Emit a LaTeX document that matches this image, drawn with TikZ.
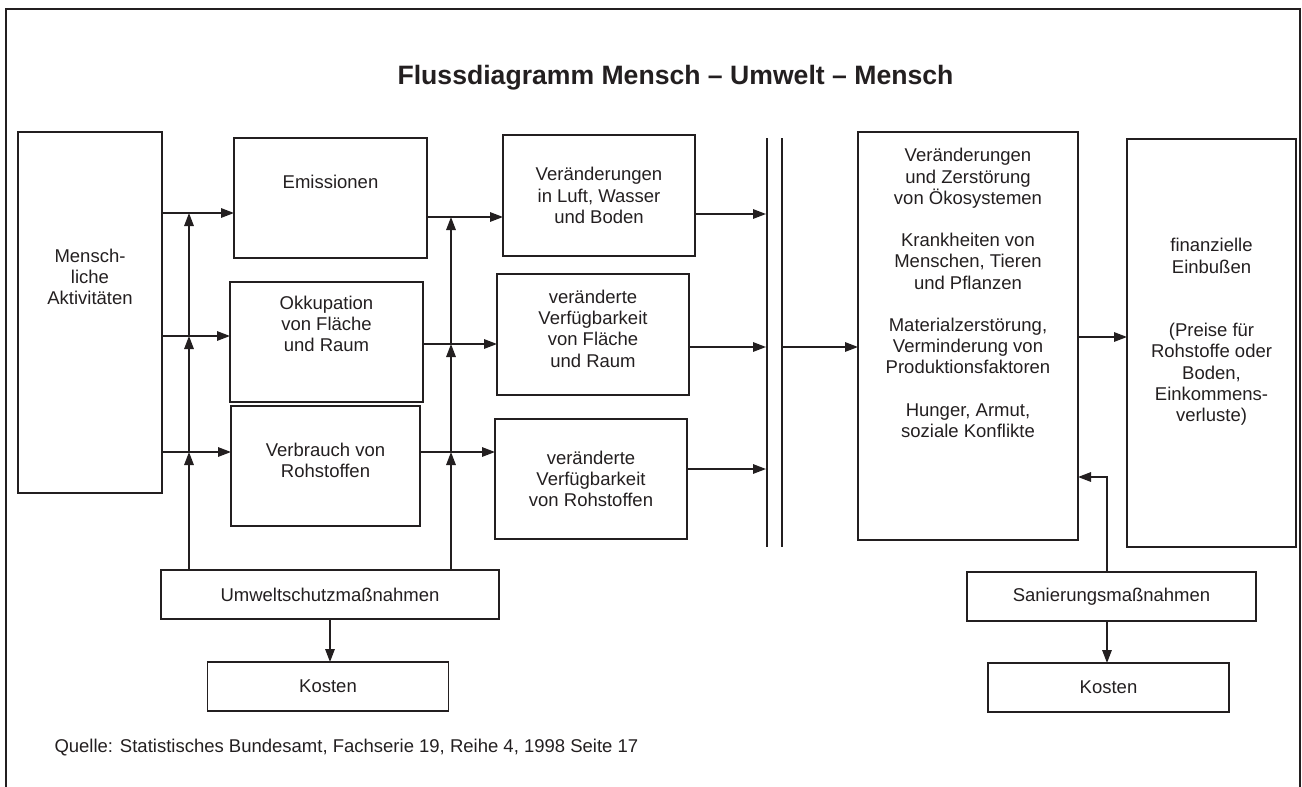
\documentclass[tikz,border=0pt]{standalone}
\usepackage{fontspec}
\setmainfont{Liberation Sans}
\usetikzlibrary{positioning,calc,arrows.meta}
\definecolor{inkblack}{RGB}{35,31,32}
\newcommand{\lowpad}[1]{\rule[-#1]{0pt}{#1}}

\begin{document}
\begin{tikzpicture}[
    x=1pt, y=-1pt,
    every node/.style={font=\fontsize{18.5pt}{21.2pt}\selectfont, text=inkblack},
    box/.style={rectangle, draw=inkblack, line width=1.7pt, align=center, inner sep=0pt, outer sep=0pt},
    title/.style={font=\fontsize{26.6pt}{30pt}\selectfont\bfseries},
    arrow/.style={-{Triangle[length=13pt,width=9.5pt]}, line width=1.5pt, color=inkblack},
    bar/.style={line width=1.4pt, color=inkblack},
    frame/.style={line width=1.5pt, color=inkblack}
]
\useasboundingbox (0,0) rectangle (1302,787);

% Frame (open at the bottom)
\draw[frame] (6,787) -- (6,9) -- (1300,9) -- (1300,787);

% Title and source
\node[title, anchor=base] (titel) at (675.5,84.5) {Flussdiagramm Mensch – Umwelt – Mensch};
\node[anchor=base west] (quelle) at (51,752) {Quelle: Statistisches Bundesamt, Fachserie 19, Reihe 4, 1998 Seite 17};

% Human activities
\node[box, minimum width=144pt, minimum height=361pt] (mensch) at (90,312.5) {Mensch-\\liche\\Aktivitäten\lowpad{72pt}};

% Pressures
\node[box, minimum width=193pt, minimum height=120pt, right=72pt of mensch, yshift=114.5pt] (emis) {Emissionen\lowpad{32pt}};
\node[box, minimum width=193pt, minimum height=120pt, right=68pt of mensch, yshift=-29.5pt] (okkup) {Okkupation\\von Fläche\\und Raum\lowpad{36pt}};
\node[box, minimum width=189pt, minimum height=120pt, right=69pt of mensch, yshift=-153.5pt] (verbr) {Verbrauch von\\Rohstoffen\lowpad{12pt}};

% Changes of the environment
\node[box, minimum width=192pt, minimum height=121pt, right=76pt of emis, yshift=2.5pt] (luft) {Veränderungen\\in Luft, Wasser\\und Boden};
\node[box, minimum width=192pt, minimum height=121pt, right=74pt of okkup, yshift=7.5pt] (flaeche) {veränderte\\Verfügbarkeit\\von Fläche\\und Raum\lowpad{12pt}};
\node[box, minimum width=192pt, minimum height=120pt, right=75pt of verbr, yshift=-13pt] (rohst) {veränderte\\Verfügbarkeit\\von Rohstoffen};

% Consequences
\node[box, minimum width=220pt, minimum height=408pt, right=169pt of flaeche, yshift=-1.5pt] (folgen) {Veränderungen\\und Zerstörung\\von Ökosystemen\\[21.2pt]Krankheiten von\\Menschen, Tieren\\und Pflanzen\\[21.2pt]Materialzerstörung,\\Verminderung von\\Produktionsfaktoren\\[21.2pt]Hunger, Armut,\\soziale Konflikte\lowpad{86pt}};
\node[box, minimum width=169pt, minimum height=408pt, right=49pt of folgen, yshift=-7pt] (finanz) {finanzielle\\Einbußen\\[42.4pt](Preise für\\Rohstoffe oder\\Boden,\\Einkommens-\\verluste)\lowpad{26pt}};

% Measures and costs
\node[box, minimum width=338pt, minimum height=49pt, below=44pt of verbr, xshift=4.5pt] (umwelt) {Umweltschutzmaßnahmen};
\node[box, minimum width=241pt, minimum height=49pt, below=43pt of umwelt, xshift=-2pt] (kostenl) {Kosten};
\node[box, minimum width=289pt, minimum height=49pt, below=25pt of finanz, xshift=-100pt] (sanier) {Sanierungsmaßnahmen};
\node[box, minimum width=241pt, minimum height=49pt, below=42pt of sanier, xshift=-3pt] (kostenr) {Kosten};

% Connections from human activities
\coordinate (ein1) at ([yshift=-15pt]emis.west);
\coordinate (ein2) at ([yshift=6pt]okkup.west);
\coordinate (ein3) at ([yshift=14pt]verbr.west);
\draw[arrow] (mensch.east |- ein1) -- (ein1);
\draw[arrow] (mensch.east |- ein2) -- (ein2);
\draw[arrow] (mensch.east |- ein3) -- (ein3);

% Connections to the changes
\coordinate (mit1) at ([yshift=-21.5pt]luft.west);
\coordinate (mit2) at ([yshift=-9.5pt]flaeche.west);
\coordinate (mit3) at ([yshift=27pt]rohst.west);
\draw[arrow] (emis.east |- mit1) -- (mit1);
\draw[arrow] (okkup.east |- mit2) -- (mit2);
\draw[arrow] (verbr.east |- mit3) -- (mit3);

% Environmental protection acts on both stages
\coordinate (sl) at (189,0);
\coordinate (sr) at (451,0);
\draw[arrow] (sl |- umwelt.north) -- (sl |- ein3);
\draw[arrow] (sl |- ein3) -- (sl |- ein2);
\draw[arrow] (sl |- ein2) -- (sl |- ein1);
\draw[arrow] (sr |- umwelt.north) -- (sr |- mit3);
\draw[arrow] (sr |- mit3) -- (sr |- mit2);
\draw[arrow] (sr |- mit2) -- (sr |- mit1);
\draw[arrow] (umwelt.south) -- (umwelt.south |- kostenl.north);

% Double bar
\coordinate (bar1) at (767,138);
\coordinate (bar2) at (782,138);
\coordinate (tip) at (766,0);
\draw[bar] (bar1) -- ++(0,409);
\draw[bar] (bar2) -- ++(0,409);

\coordinate (aus1) at ([yshift=-18.5pt]luft.east);
\coordinate (aus2) at ([yshift=-12.5pt]flaeche.east);
\coordinate (aus3) at ([yshift=10pt]rohst.east);
\draw[arrow] (aus1) -- (aus1 -| tip);
\draw[arrow] (aus2) -- (aus2 -| tip);
\draw[arrow] (aus3) -- (aus3 -| tip);

\coordinate (folgein) at ([yshift=-11pt]folgen.west);
\draw[arrow] (bar2 |- folgein) -- (folgein);

% Consequences to losses, restoration
\coordinate (folgaus) at ([yshift=-1pt]folgen.east);
\draw[arrow] (folgaus) -- (folgaus -| finanz.west);
\coordinate (san) at ([xshift=-4.5pt]sanier.north);
\coordinate (rueck) at ([yshift=-141pt]folgen.east);
\draw[arrow] (san) |- (rueck);
\coordinate (sanu) at ([xshift=-4.5pt]sanier.south);
\draw[arrow] (sanu) -- (sanu |- kostenr.north);

\end{tikzpicture}
\end{document}
